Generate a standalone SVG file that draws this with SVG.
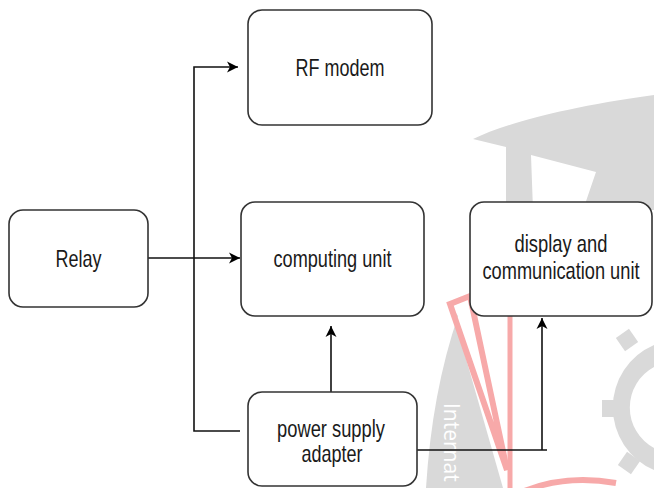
<svg xmlns="http://www.w3.org/2000/svg" width="654" height="488" viewBox="0 0 654 488">
  <style>
    .box { fill: #ffffff; stroke: #333333; stroke-width: 1.6; }
    .lbl { font-family: "Liberation Sans", Arial, Helvetica, sans-serif; font-size: 24px; fill: #1a1a1a; text-anchor: middle; }
    .wire { fill: none; stroke: #111111; stroke-width: 1.6; }
    .wm-gray { fill: #d9d9d9; stroke: none; }
    .wm-red { fill: none; stroke: #f7a9a9; stroke-width: 6; stroke-linejoin: miter; }
  </style>
  <defs>
    <marker id="arrow" markerUnits="userSpaceOnUse" markerWidth="13" markerHeight="13" refX="12" refY="6.5" orient="auto">
      <path d="M1,1 L12,6.5 L1,12 L4,6.5 Z" fill="#000000"/>
    </marker>
  </defs>

  <rect width="654" height="488" fill="#ffffff"/>

  <!-- background emblem -->
  <g id="emblem">
    <!-- cap -->
    <path class="wm-gray" d="M473,139 C505,124 560,108 654,95 L654,210 L583,210 L596,172 L531,155 L533,210 L506,210 L506,147 Z"/>
    <!-- disc -->
    <path class="wm-gray" d="M458,316 Q432,392 426,488 L503,488 L451,306 Z"/>
    <!-- gear -->
    <g fill="#d9d9d9">
      <path d="M654,345 A68,68 0 0 0 654,470 L654,448 A46,46 0 0 1 654,367 Z"/>
      <rect x="619" y="332" width="16" height="16" transform="rotate(-35 627 340)"/>
      <rect x="602" y="400" width="14" height="17"/>
      <rect x="621" y="455" width="16" height="16" transform="rotate(35 629 463)"/>
    </g>
    <!-- red pennant -->
    <path class="wm-red" d="M450,304 L470,296 L507,470 Z"/>
    <line x1="510" y1="312" x2="510" y2="488" stroke="#f7a9a9" stroke-width="5"/>
    <path d="M522,492 Q565,474 616,483" fill="none" stroke="#f7a9a9" stroke-width="6"/>
    <text x="444" y="403" transform="rotate(90 444 403)" font-family="'Open Sans', 'Noto Sans', sans-serif" font-size="21" fill="#ffffff">Internat</text>
  </g>

  <!-- connectors -->
  <g id="connectors">
    <path class="wire" d="M148,258 H240" marker-end="url(#arrow)"/>
    <path class="wire" d="M240,431 H194 V67 H238" marker-end="url(#arrow)"/>
    <path class="wire" d="M331,392 V326" marker-end="url(#arrow)"/>
    <path class="wire" d="M417,450 H547"/>
    <path class="wire" d="M542,450 V318" marker-end="url(#arrow)"/>
  </g>

  <!-- nodes (labels are set in a narrowed Liberation Sans) -->
  <g id="rf-modem">
    <rect class="box" x="248" y="10" width="184" height="115" rx="14" ry="14"/>
    <text class="lbl" transform="translate(340 76) scale(0.75 1)">RF modem</text>
  </g>
  <g id="relay">
    <rect class="box" x="9" y="210" width="139" height="97" rx="14" ry="14"/>
    <text class="lbl" transform="translate(78.5 267) scale(0.75 1)">Relay</text>
  </g>
  <g id="computing-unit">
    <rect class="box" x="241" y="202" width="183" height="114" rx="14" ry="14"/>
    <text class="lbl" transform="translate(332.5 267) scale(0.756 1)">computing unit</text>
  </g>
  <g id="display-unit">
    <rect class="box" x="470" y="202" width="182" height="114" rx="14" ry="14"/>
    <text class="lbl" transform="translate(561 252) scale(0.766 1)">display and</text>
    <text class="lbl" transform="translate(561 279) scale(0.76 1)">communication unit</text>
  </g>
  <g id="power-supply">
    <rect class="box" x="248" y="392" width="169" height="94" rx="14" ry="14"/>
    <text class="lbl" transform="translate(331 437) scale(0.764 1)">power supply</text>
    <text class="lbl" transform="translate(332 462) scale(0.75 1)">adapter</text>
  </g>
</svg>
